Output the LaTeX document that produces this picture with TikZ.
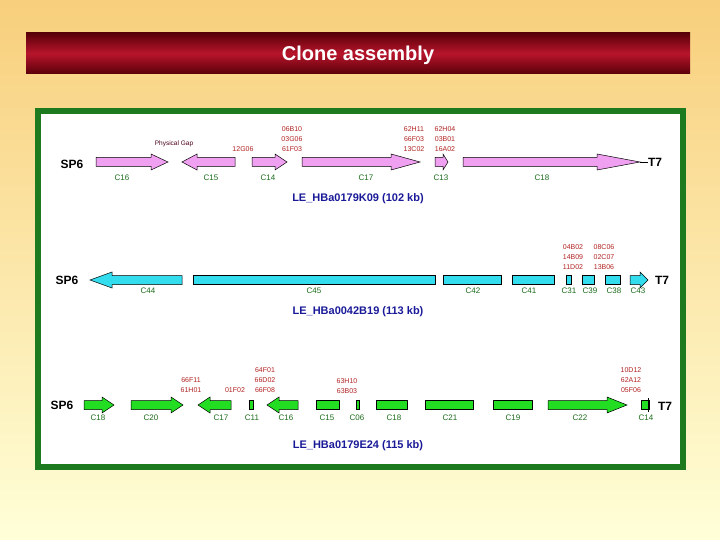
\documentclass[tikz,border=0pt]{standalone}
\usepackage{fontspec}
\setmainfont{Liberation Sans}
\begin{document}
\begin{tikzpicture}[x=1pt,y=-1pt,
 lab/.style={text=labg,font=\fontsize{8}{8}\selectfont,inner sep=0pt},
 red/.style={text=redc,font=\fontsize{7}{10}\selectfont,inner sep=0pt,align=center},
 end/.style={font=\bfseries\fontsize{12}{12}\selectfont,inner sep=0pt},
 ttl/.style={text=navy,font=\bfseries\fontsize{11}{11}\selectfont,inner sep=0pt},
 shp/.style={draw=black,line width=0.5pt}]
\definecolor{labg}{HTML}{1A6B1A}
\definecolor{redc}{HTML}{B22222}
\definecolor{navy}{HTML}{1A1A99}
\definecolor{pinkc}{HTML}{F0A0F0}
\definecolor{cyanc}{HTML}{33DDEE}
\definecolor{greenc}{HTML}{22DD22}
\definecolor{bgtop}{HTML}{F8CF7C}
\definecolor{bgbot}{HTML}{FFFFD8}
\definecolor{bartop}{HTML}{5A0008}
\definecolor{barmid}{HTML}{B8142C}
\definecolor{frame}{HTML}{1E7A1E}
\newcommand{\fwdA}[5]{\fill[#5,shp] (#1,#3-4.5) -- (#2-#4,#3-4.5) -- (#2-#4,#3-8) -- (#2,#3) -- (#2-#4,#3+8) -- (#2-#4,#3+4.5) -- (#1,#3+4.5) -- cycle;}
\newcommand{\bwdA}[5]{\fill[#5,shp] (#2,#3-4.5) -- (#1+#4,#3-4.5) -- (#1+#4,#3-8) -- (#1,#3) -- (#1+#4,#3+8) -- (#1+#4,#3+4.5) -- (#2,#3+4.5) -- cycle;}
\newcommand{\boxA}[4]{\fill[#4,shp] (#1,#3-4.5) rectangle (#2,#3+4.5);}
\useasboundingbox (0,0) rectangle (720,540);
\shade[top color=bgtop,bottom color=bgbot] (0,0) rectangle (720,540);
\shade[top color=bartop,bottom color=bartop,middle color=barmid] (26,33) rectangle (690,74);
\node[text=white,font=\bfseries\fontsize{20}{20}\selectfont,inner sep=0pt] (title) at (358,55) {Clone assembly};
\draw[frame,line width=6pt,fill=white] (38,111) rectangle (683,467);
% Row 1
\node[end] (s1) at (72,164) {SP6};
\node[end] (t1) at (655,162) {T7};
\fwdA{96}{168}{162}{17}{pinkc}
\bwdA{182}{235}{162}{15}{pinkc}
\fwdA{252}{287}{162}{12}{pinkc}
\fwdA{302}{420}{162}{29}{pinkc}
\fwdA{435}{448}{162}{5}{pinkc}
\fwdA{463}{640}{162}{43}{pinkc}
\draw (640,162) -- (648,162);
\foreach \x/\t in {122/C16,211/C15,268/C14,366/C17,441/C13,542/C18}
  \node[lab] (r1\t) at (\x,178) {\t};
\node[text=black!60!purple,font=\fontsize{6.5}{7}\selectfont,inner sep=0pt] (pg) at (174,144) {Physical Gap};
\node[red] (g1) at (243,149) {12G06};
\node[red] (g2) at (292,139) {06B10\\03G06\\61F03};
\node[red] (g3) at (414,139) {62H11\\66F03\\13C02};
\node[red] (g4) at (445,139) {62H04\\03B01\\16A02};
\node[ttl] (n1) at (358,199) {LE\_HBa0179K09 (102 kb)};
% Row 2
\node[end] (s2) at (67,280) {SP6};
\node[end] (t2) at (662,280) {T7};
\bwdA{90}{182}{280}{22}{cyanc}
\boxA{193}{435}{280}{cyanc}
\boxA{443}{501}{280}{cyanc}
\boxA{512}{554}{280}{cyanc}
\boxA{566}{571}{280}{cyanc}
\boxA{582}{594}{280}{cyanc}
\boxA{605}{620}{280}{cyanc}
\fwdA{630}{648}{280}{8}{cyanc}
\foreach \x/\t in {148/C44,314/C45,473/C42,529/C41,569/C31,590/C39,614/C38,638/C43}
  \node[lab] (r2\t) at (\x,291) {\t};
\node[red] (h1) at (573,257) {04B02\\14B09\\11D02};
\node[red] (h2) at (604,257) {08C06\\02C07\\13B06};
\node[ttl] (n2) at (358,312) {LE\_HBa0042B19 (113 kb)};
% Row 3
\node[end] (s3) at (62,405) {SP6};
\node[end] (t3) at (665,406) {T7};
\fwdA{84}{114}{405}{12}{greenc}
\fwdA{131}{183}{405}{12}{greenc}
\bwdA{198}{231}{405}{12}{greenc}
\boxA{249}{253}{405}{greenc}
\bwdA{267}{298}{405}{12}{greenc}
\boxA{316}{339}{405}{greenc}
\boxA{356}{359}{405}{greenc}
\boxA{376}{407}{405}{greenc}
\boxA{425}{473}{405}{greenc}
\boxA{493}{532}{405}{greenc}
\fwdA{548}{627}{405}{20}{greenc}
\boxA{641}{649}{405}{greenc}
\draw (648,398) -- (648,412);
\foreach \x/\t/\n in {98/C18/a,151/C20/b,221/C17/c,252/C11/d,286/C16/e,327/C15/f,357/C06/g,394/C18/h,450/C21/i,513/C19/j,580/C22/k,646/C14/l}
  \node[lab] (r3\n) at (\x,418) {\t};
\node[red] (k1) at (191,385) {66F11\\61H01};
\node[red] (k2) at (235,390) {01F02};
\node[red] (k3) at (265,380) {64F01\\66D02\\66F08};
\node[red] (k4) at (347,386) {63H10\\63B03};
\node[red] (k5) at (631,380) {10D12\\62A12\\05F06};
\node[ttl] (n3) at (358,446) {LE\_HBa0179E24 (115 kb)};
\end{tikzpicture}
\end{document}
